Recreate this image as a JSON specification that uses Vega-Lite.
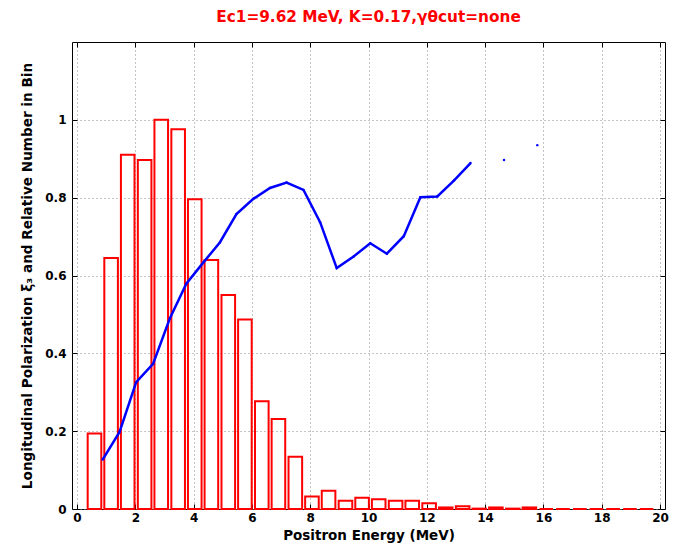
{
  "$schema": "https://vega.github.io/schema/vega-lite/v6.json",
  "width": 593,
  "height": 467,
  "autosize": "none",
  "padding": {"left": 72, "top": 42, "right": 12, "bottom": 38},
  "background": "white",
  "config": {
    "view": {"stroke": "black", "strokeWidth": 1},
    "font": "DejaVu Sans",
    "axis": {
      "labelFont": "DejaVu Sans",
      "labelFontWeight": "bold",
      "labelFontSize": 12,
      "labelColor": "black",
      "titleFont": "DejaVu Sans",
      "titleFontWeight": "bold",
      "titleFontSize": 13.5,
      "titleColor": "black",
      "domain": false,
      "tickColor": "black",
      "tickSize": -5,
      "gridColor": "#888888",
      "gridDash": [1, 3],
      "gridWidth": 1
    }
  },
  "title": {
    "text": "Ec1=9.62 MeV, K=0.17,γθcut=none",
    "color": "#ff0000",
    "fontSize": 15.3,
    "fontWeight": "bold",
    "font": "DejaVu Sans",
    "anchor": "middle",
    "offset": 16
  },
  "datasets": {
    "bins": [
      {"energy": 0.60, "count": 0.194},
      {"energy": 1.17, "count": 0.645},
      {"energy": 1.74, "count": 0.910},
      {"energy": 2.32, "count": 0.897},
      {"energy": 2.89, "count": 1.000},
      {"energy": 3.47, "count": 0.976},
      {"energy": 4.04, "count": 0.796},
      {"energy": 4.61, "count": 0.640},
      {"energy": 5.19, "count": 0.550},
      {"energy": 5.76, "count": 0.487},
      {"energy": 6.34, "count": 0.277},
      {"energy": 6.91, "count": 0.231},
      {"energy": 7.49, "count": 0.134},
      {"energy": 8.06, "count": 0.032},
      {"energy": 8.63, "count": 0.047},
      {"energy": 9.21, "count": 0.021},
      {"energy": 9.78, "count": 0.029},
      {"energy": 10.35, "count": 0.025},
      {"energy": 10.93, "count": 0.021},
      {"energy": 11.50, "count": 0.021},
      {"energy": 12.08, "count": 0.015},
      {"energy": 12.65, "count": 0.004},
      {"energy": 13.23, "count": 0.007},
      {"energy": 13.80, "count": 0.001},
      {"energy": 14.37, "count": 0.004},
      {"energy": 14.95, "count": 0.001},
      {"energy": 15.52, "count": 0.004},
      {"energy": 16.10, "count": 0},
      {"energy": 16.67, "count": 0},
      {"energy": 17.25, "count": 0},
      {"energy": 17.82, "count": 0},
      {"energy": 18.39, "count": 0},
      {"energy": 18.97, "count": 0},
      {"energy": 19.54, "count": 0}
    ],
    "pol": [
      {"energy": 0.88, "xi3": 0.127},
      {"energy": 1.46, "xi3": 0.198},
      {"energy": 2.03, "xi3": 0.326},
      {"energy": 2.61, "xi3": 0.373},
      {"energy": 3.18, "xi3": 0.489},
      {"energy": 3.75, "xi3": 0.579},
      {"energy": 4.33, "xi3": 0.633},
      {"energy": 4.90, "xi3": 0.685},
      {"energy": 5.47, "xi3": 0.758},
      {"energy": 6.05, "xi3": 0.797},
      {"energy": 6.62, "xi3": 0.825},
      {"energy": 7.19, "xi3": 0.839},
      {"energy": 7.77, "xi3": 0.820},
      {"energy": 8.34, "xi3": 0.737},
      {"energy": 8.91, "xi3": 0.619},
      {"energy": 9.49, "xi3": 0.649},
      {"energy": 10.06, "xi3": 0.683},
      {"energy": 10.63, "xi3": 0.656},
      {"energy": 11.21, "xi3": 0.701},
      {"energy": 11.78, "xi3": 0.801},
      {"energy": 12.36, "xi3": 0.803},
      {"energy": 12.93, "xi3": 0.844},
      {"energy": 13.50, "xi3": 0.889},
      {"energy": 14.07, "xi3": null},
      {"energy": 14.65, "xi3": 0.897},
      {"energy": 15.22, "xi3": null},
      {"energy": 15.79, "xi3": 0.935}
    ]
  },
  "layer": [
    {
      "data": {"name": "bins"},
      "mark": {"type": "bar", "size": 13.6, "fill": "white", "fillOpacity": 0, "stroke": "#ff0000", "strokeWidth": 2},
      "encoding": {
        "x": {
          "field": "energy", "type": "quantitative",
          "scale": {"domain": [0, 20], "nice": false, "zero": false},
          "axis": {"orient": "bottom", "values": [0, 2, 4, 6, 8, 10, 12, 14, 16, 18, 20], "grid": true, "title": "Positron Energy (MeV)", "labelPadding": 8, "titlePadding": 5, "format": "~g"}
        },
        "y": {
          "field": "count", "type": "quantitative",
          "scale": {"domain": [0, 1.2], "nice": false},
          "axis": {"orient": "left", "values": [0, 0.2, 0.4, 0.6, 0.8, 1], "grid": true, "format": "~g", "title": "Longitudinal Polarization ξ₃ and Relative Number in Bin", "titleFontSize": 13.6, "labelPadding": 11, "titlePadding": 10}
        }
      }
    },
    {
      "data": {"name": "pol"},
      "mark": {"type": "line", "color": "#0000ff", "strokeWidth": 2.5, "invalid": "break-paths-show-domains"},
      "encoding": {
        "x": {"field": "energy", "type": "quantitative", "axis": {"orient": "top", "values": [0, 2, 4, 6, 8, 10, 12, 14, 16, 18, 20], "labels": false, "grid": false, "title": null}},
        "y": {"field": "xi3", "type": "quantitative", "axis": {"orient": "right", "values": [0, 0.2, 0.4, 0.6, 0.8, 1], "labels": false, "grid": false, "title": null}}
      }
    },
    {
      "data": {"name": "pol"},
      "mark": {"type": "circle", "color": "#0000ff", "size": 6, "opacity": 1},
      "encoding": {
        "x": {"field": "energy", "type": "quantitative", "axis": null},
        "y": {"field": "xi3", "type": "quantitative", "axis": null}
      }
    }
  ],
  "resolve": {"axis": {"x": "independent", "y": "independent"}}
}
